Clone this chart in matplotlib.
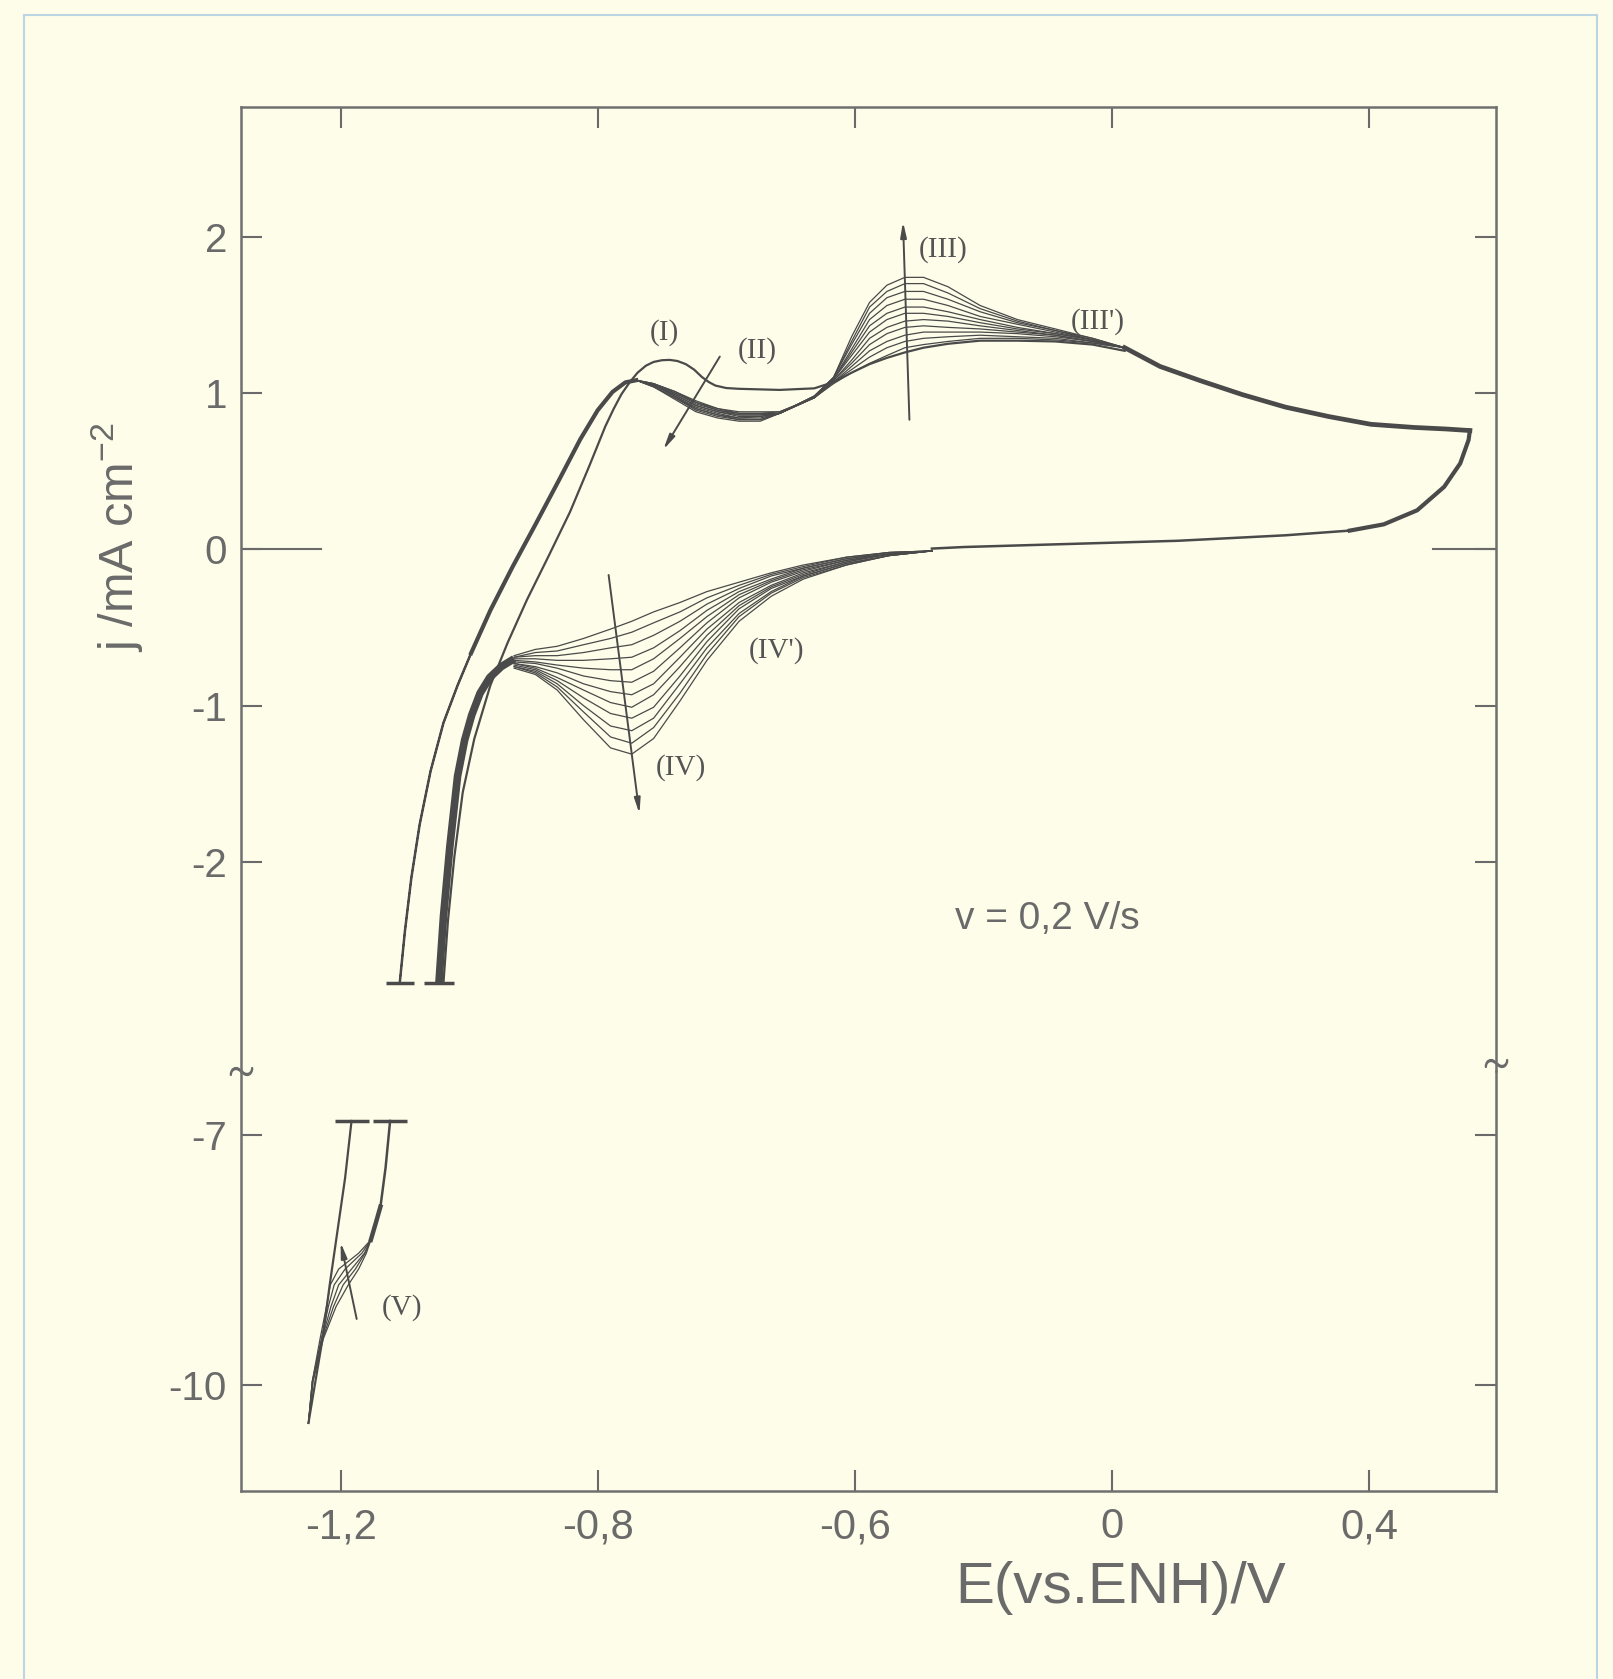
import numpy as np
import matplotlib.pyplot as plt

plt.rcParams['font.family'] = ['Liberation Sans', 'DejaVu Sans']
plt.rcParams['mathtext.fontset'] = 'custom'
plt.rcParams['mathtext.rm'] = 'Liberation Sans'

bg = '#fefde9'
ink = '#4a4a4a'
grey = '#6a6a6a'

# ---------------- data (E / V, j / mA cm-2) ----------------
# anodic sweep of the later cycles, common part up to the first maximum
rise_E = [-1.108, -1.100, -1.090, -1.077, -1.060, -1.040, -1.018, -0.997, -0.967,
          -0.933, -0.897, -0.860, -0.827, -0.800, -0.777, -0.757, -0.740]
rise_j = [-2.774, -2.445, -2.103, -1.760, -1.418, -1.110, -0.870, -0.664, -0.390,
          -0.116, 0.158, 0.445, 0.705, 0.890, 1.007, 1.068, 1.082]

# region (II), later cycles 1..11
ii_E = [-0.713, -0.680, -0.647, -0.613, -0.580, -0.547]
ii_j = [
    [1.06, 1.01, 0.95, 0.90, 0.88, 0.88],
    [1.06, 1.01, 0.94, 0.90, 0.87, 0.87],
    [1.06, 1.00, 0.94, 0.89, 0.87, 0.87],
    [1.05, 1.00, 0.93, 0.89, 0.86, 0.86],
    [1.05, 0.99, 0.92, 0.88, 0.86, 0.86],
    [1.05, 0.99, 0.92, 0.88, 0.85, 0.85],
    [1.05, 0.98, 0.91, 0.87, 0.84, 0.85],
    [1.05, 0.98, 0.90, 0.86, 0.84, 0.84],
    [1.04, 0.97, 0.90, 0.86, 0.83, 0.83],
    [1.04, 0.97, 0.89, 0.85, 0.83, 0.83],
    [1.04, 0.96, 0.88, 0.84, 0.82, 0.82],
]

# region (III)
iii_E = [-0.517, -0.463, -0.433, -0.405, -0.377, -0.350, -0.322, -0.293, -0.255,
         -0.205, -0.147, -0.088, -0.030, 0.020]
iii_first = [1.02, 1.03, 1.07, 1.13, 1.185, 1.225, 1.26, 1.29, 1.315, 1.335, 1.335, 1.33, 1.31, 1.27]
iii_j = [
    [0.88, 0.97, 1.06, 1.13, 1.19, 1.24, 1.29, 1.31, 1.33, 1.35, 1.35, 1.34, 1.32, 1.29],
    [0.88, 0.97, 1.07, 1.15, 1.23, 1.29, 1.33, 1.35, 1.36, 1.37, 1.36, 1.35, 1.32, 1.29],
    [0.87, 0.97, 1.07, 1.17, 1.27, 1.33, 1.37, 1.39, 1.39, 1.39, 1.38, 1.36, 1.33, 1.29],
    [0.87, 0.97, 1.08, 1.19, 1.31, 1.38, 1.42, 1.43, 1.42, 1.41, 1.39, 1.37, 1.33, 1.29],
    [0.87, 0.97, 1.08, 1.21, 1.35, 1.42, 1.46, 1.47, 1.46, 1.43, 1.40, 1.37, 1.33, 1.29],
    [0.87, 0.97, 1.09, 1.24, 1.39, 1.47, 1.51, 1.51, 1.49, 1.45, 1.41, 1.38, 1.34, 1.29],
    [0.87, 0.98, 1.09, 1.26, 1.43, 1.51, 1.55, 1.55, 1.52, 1.47, 1.42, 1.38, 1.34, 1.29],
    [0.87, 0.98, 1.09, 1.28, 1.47, 1.56, 1.60, 1.60, 1.56, 1.49, 1.44, 1.39, 1.34, 1.29],
    [0.87, 0.98, 1.10, 1.31, 1.51, 1.61, 1.65, 1.65, 1.60, 1.52, 1.45, 1.40, 1.34, 1.29],
    [0.87, 0.98, 1.10, 1.33, 1.55, 1.65, 1.70, 1.70, 1.64, 1.54, 1.46, 1.40, 1.35, 1.29],
    [0.87, 0.98, 1.10, 1.36, 1.58, 1.69, 1.74, 1.74, 1.68, 1.56, 1.47, 1.41, 1.35, 1.29],
]

# common anodic end up to the vertex, then cathodic return
tail_E = [0.020, 0.075, 0.137, 0.203, 0.270, 0.337, 0.403, 0.470, 0.520, 0.557]
tail_j = [1.29, 1.17, 1.08, 0.99, 0.91, 0.85, 0.80, 0.78, 0.77, 0.76]
cath_E = [0.557, 0.555, 0.542, 0.517, 0.475, 0.423, 0.370, 0.270, 0.103, -0.063, -0.230, -0.280]
cath_j = [0.76, 0.70, 0.55, 0.40, 0.25, 0.16, 0.12, 0.09, 0.055, 0.035, 0.015, 0.005]

# region (IV) / (IV'), cycles 1..12
iv_E = [-0.280, -0.347, -0.413, -0.480, -0.530, -0.580, -0.630, -0.672, -0.713,
        -0.747, -0.780, -0.822, -0.863, -0.897, -0.930]
iv_j = [
    [-0.01, -0.02, -0.05, -0.10, -0.15, -0.21, -0.27, -0.34, -0.40, -0.46, -0.51, -0.57, -0.62, -0.64, -0.68],
    [-0.01, -0.02, -0.05, -0.11, -0.16, -0.23, -0.31, -0.40, -0.47, -0.53, -0.57, -0.61, -0.65, -0.66, -0.69],
    [-0.01, -0.02, -0.06, -0.12, -0.17, -0.25, -0.35, -0.46, -0.55, -0.61, -0.63, -0.66, -0.68, -0.68, -0.69],
    [-0.01, -0.03, -0.06, -0.12, -0.19, -0.27, -0.39, -0.52, -0.63, -0.69, -0.70, -0.71, -0.71, -0.70, -0.70],
    [-0.01, -0.03, -0.07, -0.13, -0.20, -0.29, -0.43, -0.57, -0.70, -0.77, -0.77, -0.76, -0.74, -0.72, -0.71],
    [-0.01, -0.03, -0.07, -0.14, -0.21, -0.31, -0.47, -0.63, -0.78, -0.85, -0.84, -0.81, -0.76, -0.73, -0.72],
    [-0.01, -0.03, -0.08, -0.15, -0.23, -0.34, -0.51, -0.69, -0.86, -0.93, -0.91, -0.86, -0.79, -0.75, -0.73],
    [-0.01, -0.03, -0.08, -0.16, -0.24, -0.36, -0.55, -0.75, -0.93, -1.01, -0.98, -0.90, -0.82, -0.76, -0.73],
    [-0.01, -0.04, -0.09, -0.17, -0.25, -0.38, -0.59, -0.81, -1.01, -1.08, -1.05, -0.95, -0.84, -0.77, -0.74],
    [-0.01, -0.04, -0.09, -0.17, -0.27, -0.41, -0.63, -0.86, -1.08, -1.16, -1.13, -1.00, -0.86, -0.78, -0.75],
    [-0.01, -0.04, -0.10, -0.18, -0.28, -0.43, -0.67, -0.92, -1.14, -1.24, -1.20, -1.04, -0.88, -0.79, -0.75],
    [-0.01, -0.04, -0.10, -0.19, -0.30, -0.46, -0.71, -0.97, -1.21, -1.31, -1.27, -1.09, -0.90, -0.80, -0.76],
]

# steep cathodic descent (all cycles)
desc_E = [-0.930, -0.950, -0.968, -0.983, -0.996, -1.007, -1.018, -1.030, -1.040, -1.047]
desc_j = [-0.70, -0.75, -0.82, -0.92, -1.06, -1.22, -1.45, -1.90, -2.35, -2.774]

# first anodic sweep, peak (I)
first_E = [-1.040, -1.033, -1.023, -1.010, -0.992, -0.967, -0.940, -0.910, -0.877, -0.843,
           -0.813, -0.788, -0.775, -0.763, -0.750, -0.738, -0.725, -0.713, -0.700, -0.688,
           -0.676, -0.663, -0.650, -0.638, -0.627, -0.617, -0.600, -0.580]
first_j = [-2.774, -2.377, -1.966, -1.555, -1.212, -0.870, -0.596, -0.322, -0.048, 0.240,
           0.534, 0.788, 0.900, 0.993, 1.070, 1.130, 1.175, 1.199, 1.210, 1.212,
           1.205, 1.185, 1.150, 1.103, 1.070, 1.048, 1.032, 1.027]

# hydrogen region (lower panel)
h_left_E = [-1.183, -1.193, -1.205, -1.217, -1.228, -1.242, -1.250]
h_left_j = [-6.83, -7.515, -8.158, -8.802, -9.445, -10.089, -10.46]
v_j = [-10.46, -9.96, -9.45, -9.06, -8.80, -8.61, -8.42, -8.26]
v_E = [
    [-1.250, -1.243, -1.227, -1.207, -1.188, -1.172, -1.160, -1.153],
    [-1.250, -1.243, -1.228, -1.211, -1.196, -1.177, -1.162, -1.153],
    [-1.250, -1.244, -1.229, -1.215, -1.203, -1.183, -1.163, -1.153],
    [-1.250, -1.244, -1.230, -1.219, -1.210, -1.193, -1.167, -1.153],
    [-1.250, -1.244, -1.232, -1.222, -1.216, -1.203, -1.172, -1.153],
]
h_right_E = [-1.153, -1.145, -1.138, -1.130, -1.123]
h_right_j = [-8.26, -8.05, -7.86, -7.39, -6.83]

x_ticks = [-1.2, -0.8, -0.4, 0.0, 0.4]
x_labels = ['-1,2', '-0,8', '-0,6', '0', '0,4']
y_up_ticks = [2, 1, 0, -1, -2]
y_up_labels = ['2', '1', '0', '-1', '-2']
y_lo_ticks = [-7, -10]
y_lo_labels = ['-7', '-10']

# ---------------- figure ----------------
fig = plt.figure(figsize=(16.13, 16.79), dpi=100, facecolor=bg)
ax_up = fig.add_axes([0.1494, 0.3622, 0.7782, 0.5740])
ax_lo = fig.add_axes([0.1494, 0.1122, 0.7782, 0.2500])

for ax in (ax_up, ax_lo):
    ax.patch.set_visible(False)
    ax.set_xlim(-1.355, 0.598)
    ax.set_xticks(x_ticks)
    ax.tick_params(direction='in', length=15, width=1.5, color=grey, labelcolor=grey,
                   right=True, labelsize=29, pad=10)
    for s in ax.spines.values():
        s.set_color('#707070')
        s.set_linewidth(1.8)

ax_up.set_ylim(-3.336, 2.829)
ax_up.set_yticks(y_up_ticks)
ax_up.set_yticklabels(y_up_labels)
ax_up.tick_params(axis='x', top=True, bottom=False, labelbottom=False)
ax_up.spines['bottom'].set_visible(False)

ax_lo.set_ylim(-11.273, -6.228)
ax_lo.set_yticks(y_lo_ticks)
ax_lo.set_yticklabels(y_lo_labels)
ax_lo.set_xticklabels(x_labels)
ax_lo.tick_params(axis='x', top=False, bottom=True, labelsize=30, pad=12)
ax_lo.spines['top'].set_visible(False)

# longer zero marks
ax_up.axhline(0, xmin=0, xmax=0.064, color=grey, lw=1.5)
ax_up.axhline(0, xmin=0.950, xmax=1, color=grey, lw=1.5)

# axis break marks
ax_up.plot([0], [0], marker=r'$\sim$', ms=16, color=grey, transform=ax_up.transAxes, clip_on=False)
ax_up.plot([1], [0.008], marker=r'$\sim$', ms=16, color=grey, transform=ax_up.transAxes, clip_on=False)

# later anodic cycles
for k in range(len(ii_j)):
    E = rise_E + ii_E + iii_E + tail_E
    j = rise_j + ii_j[k] + iii_j[k] + tail_j
    ax_up.plot(E, j, color=ink, lw=0.9)
ax_up.plot(rise_E, rise_j, color=ink, lw=1.8)
ax_up.plot(rise_E[7:], rise_j[7:], color=ink, lw=3.0)
ax_up.plot(tail_E, tail_j, color=ink, lw=3.4)

# first anodic cycle
ax_up.plot(first_E + iii_E, first_j + iii_first, color=ink, lw=1.6)

# cathodic return
ax_up.plot(cath_E[:7], cath_j[:7], color=ink, lw=3.0)
ax_up.plot(cath_E[6:], cath_j[6:], color=ink, lw=1.8)
for row in iv_j:
    ax_up.plot(iv_E, row, color=ink, lw=0.9)
ax_up.plot(desc_E, desc_j, color=ink, lw=5.5, solid_capstyle='butt')

# cut-off bars at the lower end of the upper panel
ax_up.plot([rise_E[0]], [rise_j[0]], marker='_', ms=20, mew=2.5, color=ink)
ax_up.plot([desc_E[-1]], [desc_j[-1]], marker='_', ms=22, mew=2.5, color=ink)

# lower panel
ax_lo.plot(h_left_E, h_left_j, color=ink, lw=1.6)
for row in v_E:
    ax_lo.plot(row, v_j, color=ink, lw=0.9)
ax_lo.plot(h_right_E, h_right_j, color=ink, lw=1.8)
ax_lo.plot(h_right_E[:3], h_right_j[:3], color=ink, lw=3.2)
ax_lo.plot([h_left_E[0]], [h_left_j[0]], marker='_', ms=25, mew=2.5, color=ink)
ax_lo.plot([h_right_E[-1]], [h_right_j[-1]], marker='_', ms=25, mew=2.5, color=ink)

# arrows
arr = dict(arrowstyle='-|>,head_length=0.9,head_width=0.18', color=ink, lw=1.4, shrinkA=0, shrinkB=0)
ax_up.annotate('', xy=(-0.325, 2.096), xytext=(-0.315, 0.829), arrowprops=arr)
ax_up.annotate('', xy=(-0.698, 0.637), xytext=(-0.610, 1.233), arrowprops=arr)
ax_up.annotate('', xy=(-0.735, -1.692), xytext=(-0.783, -0.164), arrowprops=arr)
ax_lo.annotate('', xy=(-1.200, -8.29), xytext=(-1.175, -9.21), arrowprops=arr)

# peak labels
lab = dict(fontsize=21, color='#555555', ha='center', va='center', family=['Liberation Serif', 'DejaVu Serif'])
ax_up.text(-0.697, 1.39, '(I)', **lab)
ax_up.text(-0.552, 1.274, '(II)', **lab)
ax_up.text(-0.263, 1.918, '(III)', **lab)
ax_up.text(-0.022, 1.459, "(III')", **lab)
ax_up.text(-0.670, -1.397, '(IV)', **lab)
ax_up.text(-0.522, -0.644, "(IV')", **lab)
ax_lo.text(-1.105, -9.07, '(V)', **lab)

ax_up.text(-0.100, -2.363, 'v = 0,2 V/s', fontsize=28, color=grey, ha='center', va='center')

fig.text(0.695, 0.054, 'E(vs.ENH)/V', fontsize=42, color=grey, ha='center', va='center')
fig.text(0.073, 0.680, r'j /mA cm$^{-2}$', fontsize=35, color=grey, ha='center', va='center',
         rotation=90)

# scan frame
fig.add_artist(plt.Line2D([0.0149, 0.0149], [0.991, 0.0], transform=fig.transFigure, color='#bcd5e5', lw=1.5))
fig.add_artist(plt.Line2D([0.0149, 0.990], [0.991, 0.991], transform=fig.transFigure, color='#bcd5e5', lw=1.5))
fig.add_artist(plt.Line2D([0.990, 0.990], [0.991, 0.0], transform=fig.transFigure, color='#bcd5e5', lw=1.5))

fig.savefig('out.png', dpi=100, facecolor=bg)
